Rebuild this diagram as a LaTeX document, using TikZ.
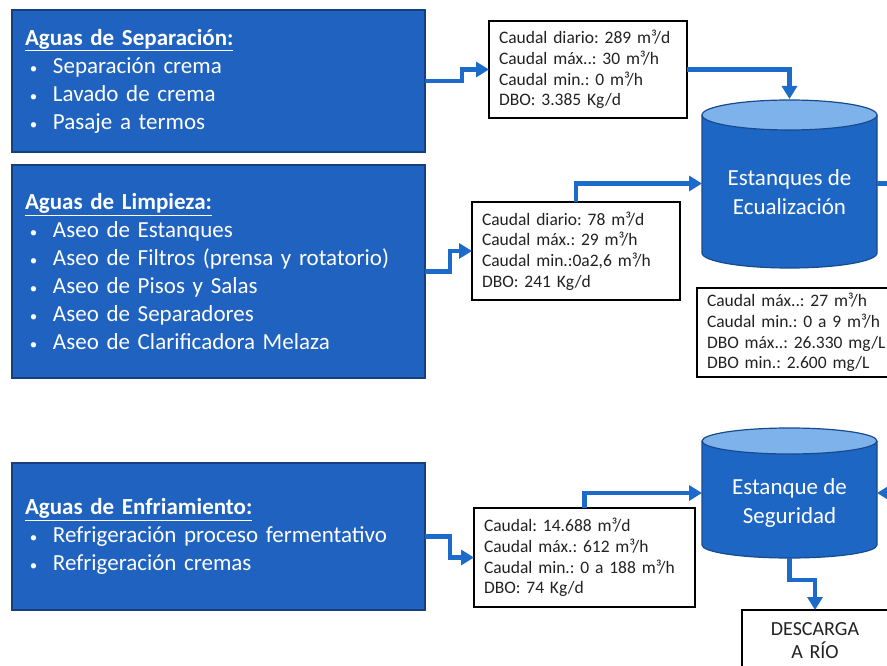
\documentclass[tikz,border=0pt]{standalone}
\usepackage{fontspec}
\setmainfont{Carlito}
\usetikzlibrary{arrows.meta,calc}
\definecolor{boxblue}{HTML}{1F62BF}
\definecolor{boxedge}{HTML}{163F7E}
\definecolor{cylbody}{HTML}{1E66C4}
\definecolor{cyltop}{HTML}{7DB2EA}
\definecolor{cyledge}{HTML}{174A8E}
\definecolor{flowblue}{HTML}{1C6AC9}
\definecolor{infotext}{HTML}{222222}
\newcommand{\bul}{\makebox[28pt][l]{\hspace{5pt}{\fontsize{15}{15}\selectfont\textbullet}}}
\frenchspacing
\begin{document}
\frenchspacing
\begin{tikzpicture}[x=1pt,y=-1pt,
  bluebox/.style={draw=boxedge, line width=1.5pt, fill=boxblue, text=white,
    anchor=north west, inner xsep=13pt, inner ysep=0pt, outer sep=0pt, align=left,
    text width=387pt, minimum width=413pt, font=\fontsize{23}{28}\selectfont},
  infobox/.style={draw=black, line width=2pt, fill=white, text=infotext,
    anchor=north west, inner xsep=10pt, inner ysep=0pt, outer sep=0pt, align=left,
    font=\fontsize{17.5}{20.7}\selectfont},
  cylnode/.style={inner sep=0pt, outer sep=0pt, minimum width=175pt},
  cyltext/.style={text=white, align=center, font=\fontsize{23}{29}\selectfont},
  flow/.style={draw=flowblue, line width=4.5pt, line join=miter,
    -{Triangle[length=13pt,width=15pt]}},
  flowline/.style={draw=flowblue, line width=4.5pt}]
\useasboundingbox (0,0) rectangle (887,666);
\clip (0,0) rectangle (887,666);
\fill[white] (0,0) rectangle (887,666);

% source boxes
\node[bluebox, minimum height=142pt] (sep) at (12,10)
  {\underline{\textbf{Aguas de Separación:}}\\
   \bul Separación crema\\
   \bul Lavado de crema\\
   \bul Pasaje a termos};
\node[bluebox, minimum height=213pt] (lim) at (12,165)
  {\underline{\textbf{Aguas de Limpieza:}}\\
   \bul Aseo de Estanques\\
   \bul Aseo de Filtros (prensa y rotatorio)\\
   \bul Aseo de Pisos y Salas\\
   \bul Aseo de Separadores\\
   \bul Aseo de Clarificadora Melaza};
\node[bluebox, minimum height=147pt] (enf) at (12,463)
  {\underline{\textbf{Aguas de Enfriamiento:}}\\
   \bul Refrigeración proceso fermentativo\\
   \bul Refrigeración cremas};

% info boxes
\node[infobox, text width=178pt, minimum width=198pt, minimum height=97pt] (info1) at (489,21)
  {Caudal diario: 289 m³/d\\Caudal máx..: 30 m³/h\\Caudal min.: 0 m³/h\\DBO: 3.385 Kg/d};
\node[infobox, text width=188pt, minimum width=208pt, minimum height=98pt] (info2) at (472,202)
  {Caudal diario: 78 m³/d\\Caudal máx.: 29 m³/h\\Caudal min.:0a2,6 m³/h\\DBO: 241 Kg/d};
\node[infobox, text width=190pt, minimum width=210pt, minimum height=89pt] (info3) at (697,288)
  {Caudal máx..: 27 m³/h\\Caudal min.: 0 a 9 m³/h\\DBO máx..: 26.330 mg/L\\DBO min.: 2.600 mg/L};
\node[infobox, text width=201pt, minimum width=221pt, minimum height=99pt] (info4) at (474,508)
  {Caudal: 14.688 m³/d\\Caudal máx.: 612 m³/h\\Caudal min.: 0 a 188 m³/h\\DBO: 74 Kg/d};
\node[infobox, align=center, text width=126pt, minimum width=146pt, minimum height=62pt,
  font=\fontsize{20}{23}\selectfont] (desc) at (742,610) {DESCARGA\\A RÍO};

% cylinder 1
\fill[cylbody] (702,115) -- (702,253) arc[start angle=180,end angle=0,x radius=87.5,y radius=15] -- (877,115) -- cycle;
\draw[cyledge, line width=1.2pt] (702,115) -- (702,253) arc[start angle=180,end angle=0,x radius=87.5,y radius=15] -- (877,115);
\filldraw[fill=cyltop, draw=cyledge, line width=1.2pt] (789.5,115) ellipse[x radius=87.5, y radius=15];
\node[cylnode, minimum height=169pt] (eq) at (789.5,183.5) {};
\node[cyltext] (eqt) at (789.5,192) {Estanques de\\Ecualización};

% cylinder 2
\fill[cylbody] (702,441) -- (702,545) arc[start angle=180,end angle=0,x radius=87.5,y radius=13] -- (877,441) -- cycle;
\draw[cyledge, line width=1.2pt] (702,441) -- (702,545) arc[start angle=180,end angle=0,x radius=87.5,y radius=13] -- (877,441);
\filldraw[fill=cyltop, draw=cyledge, line width=1.2pt] (789.5,441) ellipse[x radius=87.5, y radius=13];
\node[cylnode, minimum height=130pt] (seg) at (789.5,493) {};
\node[cyltext] (segt) at (789.5,503) {Estanque de\\Seguridad};

\coordinate (outR) at (895,183.5);
\coordinate (inR) at (895,493);

% connectors
\draw[flow] (sep.east) -- ++(37,0) |- (info1.west);
\draw[flow] (info1.east) -| (eq.north);
\draw[flow] (lim.east) -- ++(25,0) |- (info2.west);
\draw[flow] (info2.north) |- (eq.west);
\draw[flowline] (eq.east) -- (outR);
\draw[flow] (inR) -- (seg.east);
\draw[flow] (enf.east) -- ++(25,0) |- (info4.west);
\draw[flow] (info4.north) |- (seg.west);
\draw[flow] (seg.south) -- ++(0,22) -| (desc.north);
\end{tikzpicture}
\end{document}
